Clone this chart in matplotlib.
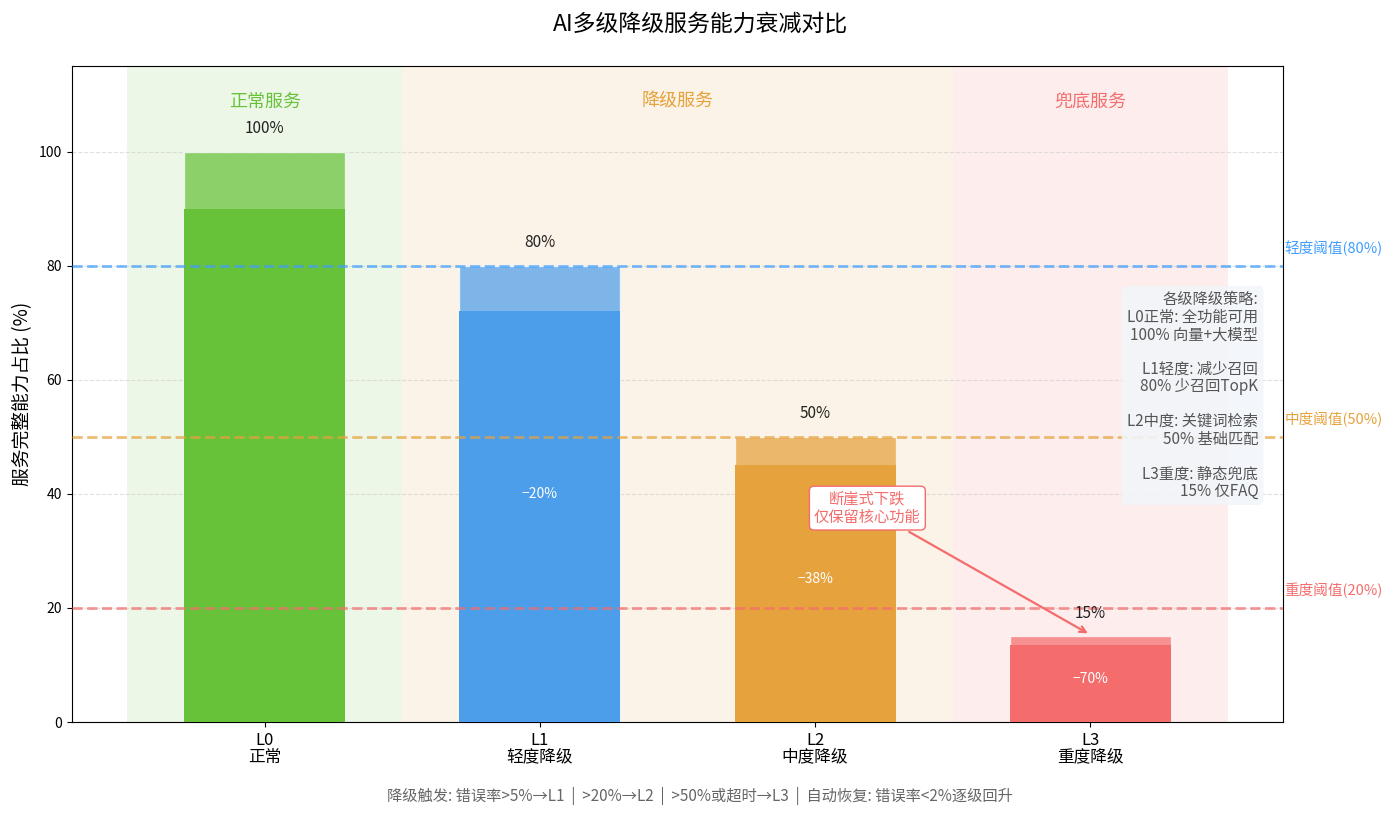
import matplotlib
matplotlib.use("Agg")
import matplotlib.pyplot as plt

plt.rcParams['font.family'] = ['Noto Sans CJK SC', 'DejaVu Sans']
plt.rcParams['axes.unicode_minus'] = False

levels = ['L0\n正常', 'L1\n轻度降级', 'L2\n中度降级', 'L3\n重度降级']
capacity = [100, 80, 50, 15]
drop_labels = ['', '−20%', '−38%', '−70%']
colors = ['#67C23A', '#4C9EEB', '#E6A23C', '#F56C6C']

zones = [(-0.5, 0.5, '正常服务', '#67C23A'),
         (0.5, 2.5, '降级服务', '#E6A23C'),
         (2.5, 3.5, '兜底服务', '#F56C6C')]

thresholds = [80, 50, 20]
threshold_labels = ['轻度阈值(80%)', '中度阈值(50%)', '重度阈值(20%)']
threshold_colors = ['#409EFF', '#E6A23C', '#F56C6C']

strategy_text = ("各级降级策略:\nL0正常: 全功能可用\n100% 向量+大模型\n\n"
                 "L1轻度: 减少召回\n80% 少召回TopK\n\n"
                 "L2中度: 关键词检索\n50% 基础匹配\n\n"
                 "L3重度: 静态兜底\n15% 仅FAQ")
footer = "降级触发: 错误率>5%→L1  |  >20%→L2  |  >50%或超时→L3  |  自动恢复: 错误率<2%逐级回升"

fig = plt.figure(figsize=(14, 8.15), dpi=100)
ax = fig.add_axes([0.0514, 0.1141, 0.8650, 0.8049])

x = list(range(len(levels)))

for (x0, x1, label, c) in zones:
    ax.axvspan(x0, x1, color=c, alpha=0.12, zorder=0, lw=0)
    ax.text((x0 + x1) / 2, 108.7, label, ha='center', va='center', fontsize=13, color=c)

ax.bar(x, capacity, width=0.585, color=colors, alpha=0.72, edgecolor='white', lw=1, zorder=2)
ax.bar(x, [v * 0.9 for v in capacity], width=0.585, color=colors, alpha=1.0,
       edgecolor='none', lw=0, zorder=3)

for t, lab, c in zip(thresholds, threshold_labels, threshold_colors):
    ax.axhline(t, color=c, ls='--', lw=2, alpha=0.7, zorder=4)
    ax.text(3.705, t + 3, lab, ha='left', va='center', fontsize=10.5, color=c, clip_on=False)

for xi, v, d in zip(x, capacity, drop_labels):
    ax.text(xi, v + 4, f'{v}%', ha='center', va='center', fontsize=11, color='#222222', zorder=5)
    if d:
        ax.text(xi, v * 0.5, d, ha='center', va='center', fontsize=10, color='white', zorder=5)

ax.annotate('断崖式下跌\n仅保留核心功能', xy=(3, 15.3), xytext=(2.19, 37.5),
            ha='center', va='center', fontsize=11, color='#F56C6C', linespacing=1.05,
            bbox=dict(boxstyle='round,pad=0.3', fc='white', ec='#F56C6C', lw=1),
            arrowprops=dict(arrowstyle='->', color='#F56C6C', lw=1.6), zorder=6)

ax.text(3.61, 75.5, strategy_text, ha='right', va='top', fontsize=11, color='#555555',
        linespacing=1.03,
        bbox=dict(boxstyle='round,pad=0.35', fc='#F2F5FA', ec='none', alpha=0.9), zorder=6)

ax.set_xlim(-0.7, 3.7)
ax.set_ylim(0, 115)
ax.set_xticks(x)
ax.set_xticklabels(levels, fontsize=12, linespacing=1.0)
ax.set_yticks([0, 20, 40, 60, 80, 100])
ax.tick_params(axis='y', labelsize=10)
ax.yaxis.grid(True, ls='--', color='#cccccc', alpha=0.6, zorder=0)
ax.set_axisbelow(True)
ax.set_ylabel('服务完整能力占比 (%)', fontsize=13.5)

fig.suptitle('AI多级降级服务能力衰减对比', fontsize=16.5, y=0.985)
fig.text(0.5, 0.023, footer, ha='center', va='center', fontsize=11, color='#666666')

fig.savefig('out.png', dpi=100)
